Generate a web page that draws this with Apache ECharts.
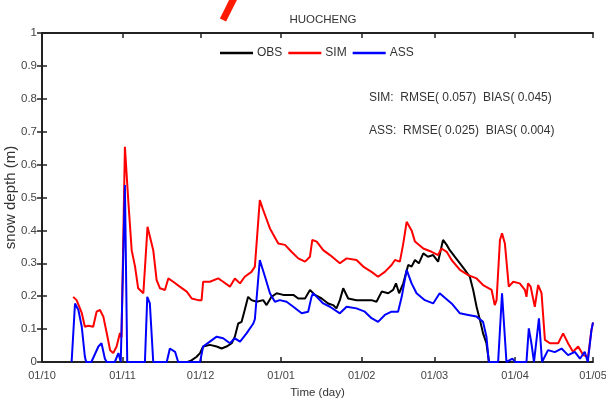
<!DOCTYPE html>
<html><head><meta charset="utf-8">
<script src="https://cdn.jsdelivr.net/npm/echarts@6/dist/echarts.min.js"></script>
<style>html,body{margin:0;padding:0;background:#fff}#c{width:606px;height:404px}</style>
</head><body><div id="c"></div>
<script>
// x = days since 1 Oct
const tickDays = [0, 31, 61, 92, 123, 151, 182, 212];
const tickLabels = ['01/10','01/11','01/12','01/01','01/02','01/03','01/04','01/05'];
const yTicks = [0,0.1,0.2,0.3,0.4,0.5,0.6,0.7,0.8,0.9,1];

const obsDay = [56,57.5,59.5,60.8,62,64.6,67.2,69.1,71,73,74.2,75.5,76.8,78,79.3,80.6,82.6,85.1,86.4,88.3,90.3,92.8,96.7,98.6,101.2,103.1,105,107.6,110.1,112,113.3,114.6,115.9,117.8,121,126.8,128.7,130.7,133.2,135.1,136.2,137.4,139,140.9,142.2,143.5,145,146.7,148.5,150.5,152.4,154.3,155.7,156.9,158.8,160.8,162.7,164.6,165.9,167.2,168.5,169.7,171,172,180];
const obsVal = [0,0.005,0.016,0.027,0.047,0.052,0.047,0.041,0.047,0.057,0.077,0.117,0.122,0.158,0.198,0.188,0.183,0.188,0.173,0.198,0.209,0.204,0.204,0.193,0.193,0.219,0.204,0.193,0.178,0.173,0.163,0.188,0.224,0.193,0.188,0.188,0.183,0.214,0.209,0.219,0.239,0.209,0.239,0.295,0.29,0.31,0.3,0.33,0.32,0.325,0.305,0.371,0.356,0.34,0.32,0.3,0.28,0.259,0.219,0.168,0.128,0.087,0.057,0,0];

const simDay = [12,13.3,15.3,16.5,17.8,19.7,21,22.3,23.6,24.9,26.2,27.4,28.7,30,30.6,31.9,33.2,34.5,35.8,37,39,39.6,40.6,42.8,44.1,45.4,47.3,48.6,50.5,53,55.7,57.6,60.1,61.4,62,64.6,67.8,69.7,72.3,74.2,76.2,78,80.6,81.9,83.8,85.1,87.7,90.9,93.5,96,98.6,101.2,103.1,104,105.7,108.2,110.8,114.6,117.2,121,123.6,126.8,129.3,131.9,134.5,135.8,137.7,139,140.3,142.2,143.5,146.7,149.9,152.4,153.7,155.7,157.6,160.8,164,167.2,169.7,173,174.2,174.9,176.2,177,178.1,179.6,181.3,183.8,185.8,186.4,187,188,189.6,190.9,192.2,193.5,195.4,198.6,200.5,202.4,204.3,206.3,208.2,210.1,211.4,212];
const simVal = [0.198,0.188,0.149,0.107,0.11,0.107,0.153,0.158,0.138,0.088,0.036,0.027,0.047,0.088,0.075,0.654,0.49,0.34,0.29,0.224,0.209,0.204,0.411,0.34,0.249,0.224,0.219,0.254,0.244,0.229,0.214,0.193,0.188,0.188,0.244,0.244,0.254,0.244,0.229,0.254,0.239,0.259,0.274,0.29,0.492,0.462,0.406,0.36,0.356,0.335,0.315,0.305,0.32,0.371,0.366,0.34,0.325,0.3,0.315,0.31,0.29,0.274,0.259,0.274,0.295,0.31,0.305,0.36,0.426,0.4,0.366,0.345,0.335,0.325,0.345,0.335,0.31,0.28,0.264,0.254,0.234,0.219,0.173,0.188,0.371,0.391,0.36,0.229,0.244,0.239,0.219,0.198,0.239,0.229,0.168,0.234,0.209,0.067,0.057,0.057,0.087,0.057,0.031,0.047,0.021,0.016,0.097,0.12];

const assDay = [11.4,12.7,14,15.3,16.5,17,19,21.7,22.9,24.2,24.9,28,29.4,30.3,31.2,31.9,32.8,39.6,40.5,41.5,42.8,48,49.2,51.2,52.4,60.8,62,64.6,67.2,69.7,72.3,74.2,76.2,78.7,81.3,81.9,83.8,85.8,87.7,89.6,91.5,94.1,96.7,99.9,102.4,103.7,104.3,105.7,108.2,110.8,114.6,117.2,121,124.2,126.8,129.3,131.9,134.5,137,138.4,140.3,142.2,144.1,147.3,150.5,153,155,157.6,160.8,164,167.2,169.7,171,171.9,175.5,177,178.7,181,182,186.4,187.3,188.3,189.3,191.2,192.4,194.7,197.3,199.9,202.4,205,207,208.8,210,211.4,212];
const assVal = [0,0.178,0.158,0.107,0.016,0,0,0.047,0.057,0.01,0,0,0.027,0,0.3,0.538,0,0,0.198,0.178,0,0,0.041,0.031,0,0,0.047,0.062,0.077,0.072,0.057,0.072,0.062,0.087,0.117,0.13,0.31,0.259,0.209,0.183,0.188,0.183,0.168,0.148,0.153,0.198,0.209,0.198,0.178,0.168,0.148,0.168,0.163,0.153,0.133,0.122,0.143,0.153,0.153,0.198,0.28,0.239,0.209,0.188,0.178,0.209,0.195,0.178,0.148,0.143,0.138,0.122,0.077,0,0,0.209,0,0.01,0,0,0.102,0.057,0,0.133,0,0.036,0.03,0.041,0.021,0.031,0.01,0.031,0,0.097,0.12];

const zip = (a, b) => a.map((d, i) => [d, b[i]]);
const FONT = 'Liberation Sans';
const chart = echarts.init(document.getElementById('c'), null, {renderer: 'canvas'});
const xBase = {
  type: 'value', min: 0, max: 212,
  axisLine: {show: true, onZero: false, lineStyle: {color: '#222', width: 2}},
  axisTick: {show: true, inside: true, length: 5, customValues: tickDays, lineStyle: {color: '#222', width: 1.5}},
  splitLine: {show: false}
};
const yBase = {
  type: 'value', min: 0, max: 1, interval: 0.1,
  axisLine: {show: true, lineStyle: {color: '#222', width: 2}},
  axisTick: {show: true, inside: true, length: 5, lineStyle: {color: '#222', width: 1.5}},
  splitLine: {show: false}
};
chart.setOption({
  animation: false,
  title: {text: 'HUOCHENG', left: 318, top: 9, textAlign: 'center',
    textStyle: {fontFamily: FONT, fontSize: 11.5, fontWeight: 'normal', color: '#333'}},
  legend: {left: 220, top: 47, padding: 0, icon: 'rect', itemWidth: 33, itemHeight: 2.5, itemGap: 6,
    textStyle: {fontFamily: FONT, fontSize: 12, color: '#333', padding: [0, 0, 0, -1]},
    data: ['OBS', 'SIM', 'ASS']},
  grid: {left: 42, right: 13, top: 33, bottom: 42, containLabel: false, outerBoundsMode: 'none'},
  xAxis: [
    Object.assign({}, xBase, {position: 'bottom', name: 'Time (day)', nameLocation: 'middle', nameGap: 25,
      nameMoveOverlap: false,
      nameTextStyle: {fontFamily: FONT, fontSize: 11.5, color: '#333'},
      axisLabel: {show: true, customValues: tickDays, fontFamily: FONT, fontSize: 11, color: '#444', margin: 8,
        formatter: v => tickLabels[tickDays.indexOf(Math.round(v))] || ''}}),
    Object.assign({}, xBase, {position: 'top', axisLabel: {show: false}})
  ],
  yAxis: [
    Object.assign({}, yBase, {position: 'left', name: 'snow depth (m)', nameLocation: 'middle', nameGap: 24,
      nameMoveOverlap: false,
      nameTextStyle: {fontFamily: FONT, fontSize: 15, color: '#333'},
      axisLabel: {show: true, fontFamily: FONT, fontSize: 11.5, color: '#444', margin: 5,
        formatter: v => String(Math.round(v * 10) / 10)}}),
    Object.assign({}, yBase, {position: 'right', axisLabel: {show: false}})
  ],
  graphic: [
    {type: 'line', shape: {x1: 234, y1: -2, x2: 223, y2: 20}, style: {stroke: '#ff1a00', lineWidth: 7}},
    {type: 'text', left: 369, top: 92, style: {text: 'SIM:  RMSE( 0.057)  BIAS( 0.045)', fontFamily: FONT, fontSize: 12, fill: '#333'}},
    {type: 'text', left: 369, top: 125, style: {text: 'ASS:  RMSE( 0.025)  BIAS( 0.004)', fontFamily: FONT, fontSize: 12, fill: '#333'}}
  ],
  series: [
    {name: 'OBS', type: 'line', data: zip(obsDay, obsVal), symbol: 'none', lineStyle: {color: '#000', width: 2}, itemStyle: {color: '#000'}},
    {name: 'SIM', type: 'line', data: zip(simDay, simVal), symbol: 'none', lineStyle: {color: '#ff0000', width: 2}, itemStyle: {color: '#ff0000'}},
    {name: 'ASS', type: 'line', data: zip(assDay, assVal), symbol: 'none', lineStyle: {color: '#0000ff', width: 2}, itemStyle: {color: '#0000ff'}}
  ]
});
</script></body></html>
